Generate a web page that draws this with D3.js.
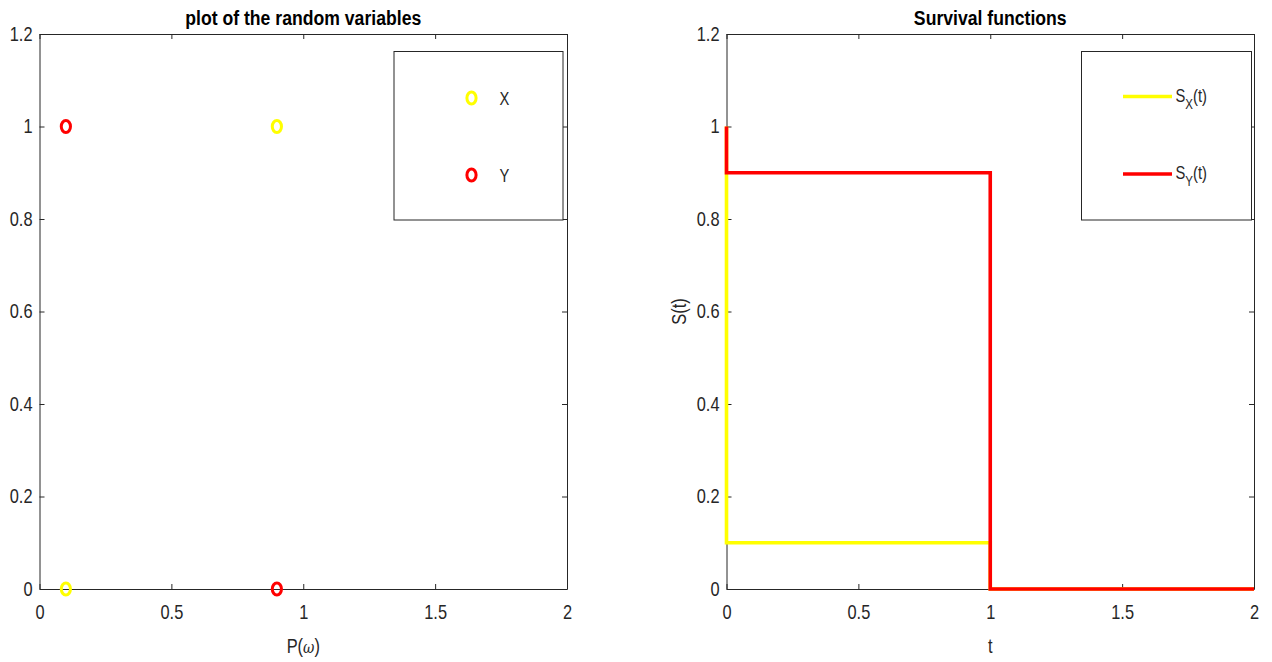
<!DOCTYPE html>
<html><head><meta charset="utf-8">
<script src="https://cdn.jsdelivr.net/npm/d3@7"></script>
<style>
body{margin:0;background:#fff;}
text{font-family:"Liberation Sans",Arial,sans-serif;fill:#262626;}
</style></head>
<body><svg id="c" width="1272" height="662"></svg>
<script>
// ---- data ----
const xTicks = [0, 0.5, 1, 1.5, 2];
const yTicks = [0, 0.2, 0.4, 0.6, 0.8, 1, 1.2];
const xTickLabels = ["0", "0.5", "1", "1.5", "2"];
const yTickLabels = ["0", "0.2", "0.4", "0.6", "0.8", "1", "1.2"];
const omegaP = [0.1, 0.9];
const valuesX = [0, 1];
const valuesY = [1, 0];
const survT = [0, 0, 1, 1, 2];
const survX = [1, 0.1, 0.1, 0, 0];
const survY = [1, 0.9, 0.9, 0, 0];
const seriesNames1 = ["X", "Y"];
const seriesSubs2 = ["X", "Y"];
const colors = ["#ffff00", "#ff0000"];

const svg = d3.select("#c");
const axisColor = "#262626";
const SQ = 0.82; // horizontal squeeze of glyphs

function label(parent, x, y, opts) {
  const sq = opts.sq || SQ;
  const g = parent.append("g").attr("transform", `translate(${x},${y}) ${opts.rotate ? "rotate(-90)" : ""} scale(${sq},1)`);
  const t = g.append("text").attr("text-anchor", opts.anchor || "middle").style("font-size", (opts.size || 20) + "px");
  if (opts.bold) t.style("font-weight", "bold").style("fill", "#000");
  return t;
}

function panel(left, right, topY, bottomY, title, xlabel, ylabel) {
  const x = d3.scaleLinear().domain([0, 2]).range([left, right]);
  const y = d3.scaleLinear().domain([0, 1.2]).range([bottomY, topY]);
  const g = svg.append("g");
  const ax = (gen, tr) => {
    const a = g.append("g").attr("transform", tr).call(gen);
    a.select(".domain").attr("stroke", axisColor);
    a.selectAll(".tick line").attr("stroke", axisColor);
    a.selectAll(".tick text").attr("fill", axisColor).style("font-size", "20px")
      .style("font-family", '"Liberation Sans",Arial,sans-serif')
      .attr("transform", `scale(${SQ},1)`);
    return a;
  };
  ax(d3.axisBottom(x).tickValues(xTicks).tickFormat((d, i) => xTickLabels[i]).tickSizeInner(-5).tickSizeOuter(0).tickPadding(16), `translate(0,${bottomY})`);
  ax(d3.axisTop(x).tickValues(xTicks).tickFormat("").tickSizeInner(-5).tickSizeOuter(0), `translate(0,${topY})`);
  ax(d3.axisLeft(y).tickValues(yTicks).tickFormat((d, i) => yTickLabels[i]).tickSizeInner(-5).tickSizeOuter(0).tickPadding(8.5), `translate(${left},0)`);
  ax(d3.axisRight(y).tickValues(yTicks).tickFormat("").tickSizeInner(-5).tickSizeOuter(0), `translate(${right},0)`);
  label(g, (left + right) / 2, 25, {bold: true, size: 20.5, sq: 0.86}).text(title);
  if (xlabel) xlabel(label(g, (left + right) / 2, 653, {size: 20}));
  if (ylabel) label(g, left - 41, (topY + bottomY) / 2, {size: 20, rotate: true}).text(ylabel);
  return {x, y, g};
}

const topEdge = 34, bottomEdge = 589;
// Left panel
const p1 = panel(39.5, 567, topEdge, bottomEdge, "plot of the random variables",
  t => { t.append("tspan").text("P("); t.append("tspan").style("font-style", "italic").style("font-family", "DejaVu Serif").style("font-size", "17px").text("ω"); t.append("tspan").text(")"); });
const pts = [];
omegaP.forEach((p, i) => { pts.push({p, v: valuesX[i], c: colors[0]}); pts.push({p, v: valuesY[i], c: colors[1]}); });
p1.g.selectAll("ellipse.pt").data(pts).enter().append("ellipse")
  .attr("cx", d => p1.x(d.p)).attr("cy", d => p1.y(d.v)).attr("rx", 4.6).attr("ry", 6)
  .attr("fill", "none").attr("stroke", d => d.c).attr("stroke-width", 3);
// legend 1
const lg1 = p1.g.append("g");
lg1.append("rect").attr("x", 394).attr("y", 51.5).attr("width", 169).attr("height", 168.5).attr("fill", "#fff").attr("stroke", axisColor).attr("stroke-width", 1);
seriesNames1.forEach((n, i) => {
  const cy = [98, 175][i];
  lg1.append("ellipse").attr("cx", 471.5).attr("cy", cy).attr("rx", 4.6).attr("ry", 6).attr("fill", "none").attr("stroke", colors[i]).attr("stroke-width", 3);
  label(lg1, 499.5, cy + 7, {size: 18, anchor: "start"}).text(n);
});

// Right panel
const p2 = panel(726.5, 1254, topEdge, bottomEdge, "Survival functions", t => t.text("t"), "S(t)");
const line = d3.line().x(d => p2.x(d[0])).y(d => p2.y(d[1]));
const seriesS = [survX, survY];
seriesS.forEach((s, i) => {
  p2.g.append("path").datum(survT.map((t, k) => [t, s[k]])).attr("d", line)
    .attr("fill", "none").attr("stroke", colors[i]).attr("stroke-width", 3.6);
});
const lg2 = p2.g.append("g");
lg2.append("rect").attr("x", 1081.5).attr("y", 51.5).attr("width", 170).attr("height", 168.5).attr("fill", "#fff").attr("stroke", axisColor).attr("stroke-width", 1);
seriesSubs2.forEach((sub, i) => {
  const cy = [96.5, 174][i];
  lg2.append("line").attr("x1", 1123).attr("x2", 1172).attr("y1", cy).attr("y2", cy).attr("stroke", colors[i]).attr("stroke-width", 3.6);
  const t = label(lg2, 1175.5, cy + 5, {size: 18, anchor: "start"});
  t.append("tspan").text("S");
  t.append("tspan").attr("dy", 7).style("font-size", "14px").text(sub);
  t.append("tspan").attr("dy", -7).text("(t)");
});
</script></body></html>
